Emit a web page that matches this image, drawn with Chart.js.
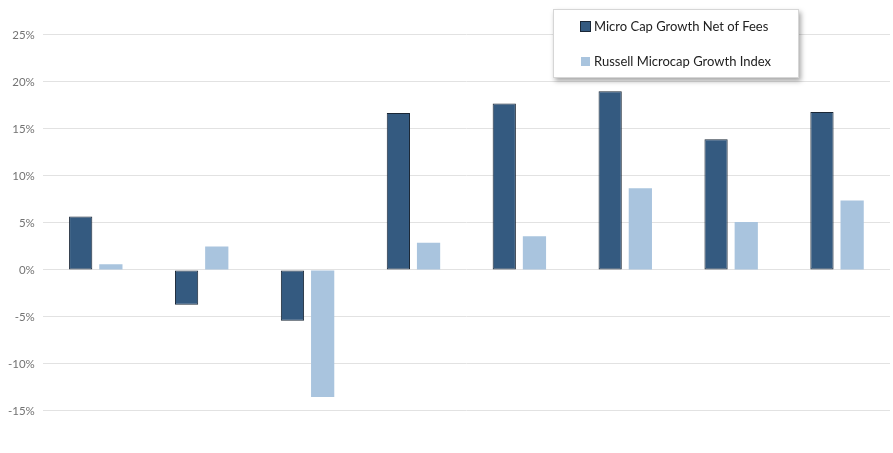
<!DOCTYPE html>
<html>
<head>
<meta charset="utf-8">
<script src="https://cdn.jsdelivr.net/npm/chart.js@4"></script>
<style>
  html, body { margin: 0; padding: 0; background: #fff; }
  #wrap { position: relative; width: 893px; height: 453px; }
  #legend {
    position: absolute; left: 553px; top: 9px; width: 244px; height: 67px;
    background: #fff; border: 1px solid #d6d6d6;
    box-shadow: 2px 3px 5px rgba(0,0,0,0.35);
    font-family: Lato, "Open Sans", sans-serif; font-size: 13px; color: #222;
  }
  #legend .item { position: absolute; left: 27px; white-space: nowrap; }
  #legend .box { display: inline-block; width: 9px; height: 9px; margin-right: 4px; }
</style>
</head>
<body>
<div id="wrap">
  <canvas id="chart" width="893" height="453"></canvas>
  <div id="legend"></div>
</div>
<script>
// values (percent)
let periods = ["P1", "P2", "P3", "P4", "P5", "P6", "P7", "P8"];
let netOfFees = [5.7, -3.7, -5.4, 16.7, 17.7, 19.0, 13.9, 16.8];
let russellIndex = [0.6, 2.5, -13.5, 2.9, 3.6, 8.7, 5.1, 7.4];
let seriesNames = ["Micro Cap Growth Net of Fees", "Russell Microcap Growth Index"];

let chart = new Chart(document.getElementById("chart"), {
  type: 'bar',
  data: {
    labels: periods,
    datasets: [{
      label: seriesNames[0],
      data: netOfFees,
      backgroundColor: "#345a80",
      borderColor: "#1a2736",
      borderWidth: 1,
      borderSkipped: false,
      categoryPercentage: 0.57,
      barPercentage: 0.77
    }, {
      label: seriesNames[1],
      data: russellIndex,
      backgroundColor: "#a9c4de",
      borderWidth: 0,
      categoryPercentage: 0.57,
      barPercentage: 0.77
    }]
  },
  options: {
    responsive: false,
    animation: false,
    layout: { padding: { left: 0, right: 3, top: 0, bottom: 0 } },
    plugins: { legend: { display: false }, tooltip: { enabled: false } },
    scales: {
      x: { display: false, grid: { display: false } },
      y: {
        min: -19.47,
        max: 28.72,
        afterBuildTicks: function (axis) {
          axis.ticks = axis.ticks.filter(function (t) { return t.value % 5 === 0; });
        },
        // let the plot run to the top and bottom edge like the original
        afterFit: function (axis) {
          axis.paddingTop = 0;
          axis.paddingBottom = 0;
        },
        ticks: {
          stepSize: 5,
          padding: 8,
          color: "#737373",
          font: { family: "Lato, 'Open Sans', sans-serif", size: 11.5 },
          callback: function (v) { return v + "%"; }
        },
        grid: { color: "#e2e2e2", drawTicks: false },
        border: { display: false }
      }
    }
  }
});

// html legend, drawn from the chart's datasets
let legend = document.getElementById("legend");
chart.data.datasets.forEach(function (ds, i) {
  let item = document.createElement("div");
  item.className = "item";
  item.style.top = (i === 0 ? 8 : 43) + "px";
  let box = document.createElement("span");
  box.className = "box";
  box.style.background = ds.backgroundColor;
  if (ds.borderWidth) box.style.outline = "1px solid " + ds.borderColor;
  item.appendChild(box);
  item.appendChild(document.createTextNode(ds.label));
  legend.appendChild(item);
});
</script>
</body>
</html>
